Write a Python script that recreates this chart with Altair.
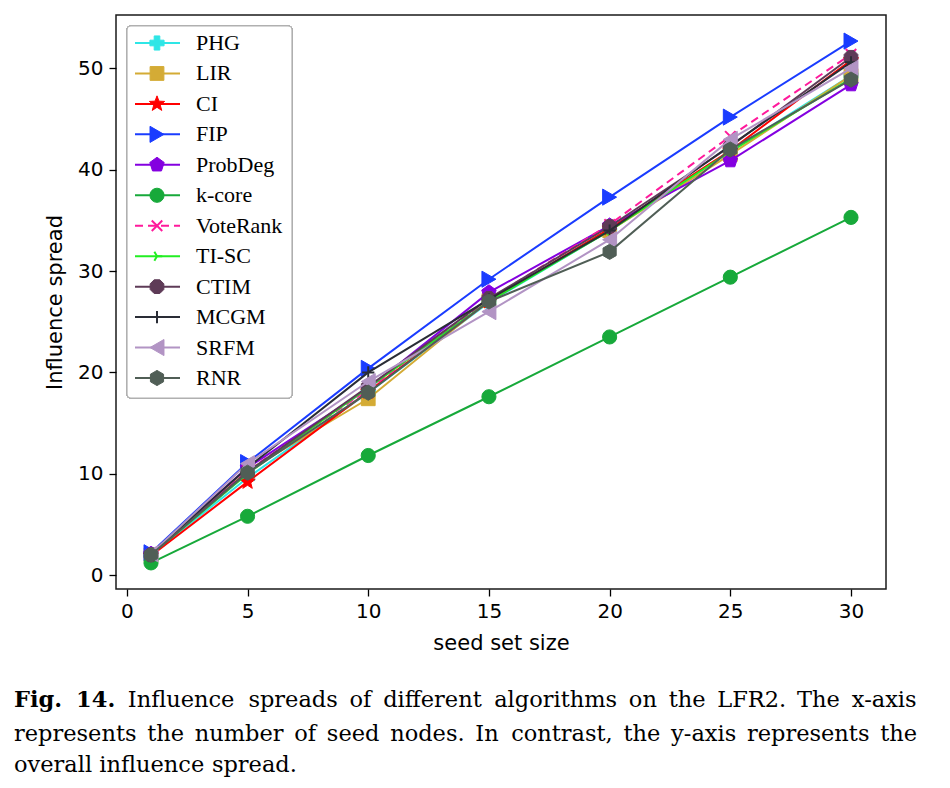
import math
import altair as alt
import pandas as pd

# ---------------- data ----------------
seed_sizes = [1, 5, 10, 15, 20, 25, 30]
names = ["PHG", "LIR", "CI", "FIP", "ProbDeg", "k-core", "VoteRank",
         "TI-SC", "CTIM", "MCGM", "SRFM", "RNR"]
phg = [2.0, 9.6, 18.0, 26.9, 34.0, 41.8, 49.3]
lir = [2.0, 10.3, 17.4, 27.1, 34.0, 41.5, 49.3]
ci = [1.9, 9.2, 18.1, 27.0, 34.2, 41.9, 50.8]
fip = [2.2, 11.1, 20.4, 29.2, 37.3, 45.2, 52.7]
probdeg = [2.1, 10.6, 18.4, 27.9, 34.5, 40.9, 48.4]
kcore = [1.2, 5.8, 11.8, 17.6, 23.5, 29.4, 35.3]
voterank = [2.0, 10.3, 18.3, 27.2, 34.6, 43.3, 51.4]
tisc = [2.0, 10.0, 18.5, 27.0, 34.0, 41.8, 49.0]
ctim = [2.0, 10.2, 18.6, 27.3, 34.4, 42.3, 51.1]
mcgm = [2.1, 10.6, 20.0, 27.2, 34.0, 42.4, 50.6]
srfm = [2.1, 11.0, 19.1, 26.0, 33.1, 43.0, 50.0]
rnr = [2.0, 10.1, 18.0, 27.0, 31.9, 42.0, 48.9]
series_values = [phg, lir, ci, fip, probdeg, kcore, voterank, tisc, ctim, mcgm, srfm, rnr]

x_ticks = [0, 5, 10, 15, 20, 25, 30]
y_ticks = [0, 10, 20, 30, 40, 50]

caption_lines = [
    "Fig. 14. Influence spreads of different algorithms on the LFR2. The x-axis",
    "represents the number of seed nodes. In contrast, the y-axis represents the",
    "overall influence spread.",
]
caption_bold_words = 2          # "Fig. 14." in bold on the first line
caption_justified = [True, True, False]
caption_baselines = [707, 741, 772]
caption_left, caption_right = 14, 917
cap_fs = 22.5

# ---------------- styles ----------------
colors = ["#2ee6e6", "#d4ab35", "#ff0000", "#1a3cff", "#8400e0", "#17a93a",
          "#ff1a9c", "#22ee22", "#5e3b57", "#2a2d36", "#b294c4", "#505e56"]


def poly(n, rot=-90.0, radii=(1.0,)):
    pts = []
    for k in range(n):
        a = math.radians(rot + 360.0 * k / n)
        r = radii[k % len(radii)]
        pts.append(f"{r * math.cos(a):.3f},{r * math.sin(a):.3f}")
    return "M" + "L".join(pts) + "Z"


star = poly(10, -90.0, (1.0, 0.42))
pentagon = poly(5, -90.0)
hexagon = poly(6, -90.0)
octagon = poly(8, -90.0 + 22.5)
xmark = "M-1,-1L1,1M-1,1L1,-1"
tri_right = "M0,0L1,0M0,0L-0.5,0.866M0,0L-0.5,-0.866"
plus = "M-1,0L1,0M0,-1L0,1"

shapes = ["cross", "square", star, "triangle-right", pentagon, "circle",
          xmark, tri_right, octagon, plus, "triangle-left", hexagon]
filled = [True, True, True, True, True, True, False, False, True, False, True, True]
sizes = [200, 190, 260, 260, 230, 200, 110, 110, 220, 150, 260, 230]
dashes = [None] * 12
dashes[6] = [8, 5]

# approximate DejaVu Serif advance widths (per 1000 em) for text justification
ADV = {"a": 596, "b": 640, "c": 560, "d": 640, "e": 592, "f": 370, "g": 640, "h": 644,
       "i": 320, "j": 320, "k": 606, "l": 320, "m": 948, "n": 644, "o": 602, "p": 640,
       "q": 640, "r": 478, "s": 513, "t": 402, "u": 644, "v": 565, "w": 856, "x": 564,
       "y": 565, "z": 523, ".": 318, ",": 318, "-": 338, "I": 473, "F": 673, "L": 653,
       "R": 735, "T": 682}
ADV_BOLD = {"F": 757, "i": 390, "g": 710, ".": 380, "1": 696, "4": 696}


def word_width(w, bold):
    tab = ADV_BOLD if bold else ADV
    return sum(tab.get(ch, 636) for ch in w) * cap_fs / 1000.0


# ---------------- frames ----------------
rows = []
for name, vals in zip(names, series_values):
    for xv, yv in zip(seed_sizes, vals):
        rows.append({"series": name, "seeds": xv, "spread": yv})
df = pd.DataFrame(rows)

legend_df = pd.DataFrame({"series": names, "row": list(range(len(names)))})

cap_rows = []
for li, (line, base, just) in enumerate(zip(caption_lines, caption_baselines, caption_justified)):
    words = line.split(" ")
    bolds = [li == 0 and k < caption_bold_words for k in range(len(words))]
    widths = [word_width(w, b) for w, b in zip(words, bolds)]
    if just:
        gap = (caption_right - caption_left - sum(widths)) / (len(words) - 1)
    else:
        gap = 318 * cap_fs / 1000.0
    xp = caption_left
    for w, b, wd in zip(words, bolds, widths):
        cap_rows.append({"word": w, "px": xp - 116, "py": base - 15,
                         "weight": "bold" if b else "normal"})
        xp += wd + gap
cap_df = pd.DataFrame(cap_rows)

W, H = 770, 574
xscale = alt.Scale(domain=[-0.45, 31.45], nice=False, zero=False)
yscale = alt.Scale(domain=[-1.375, 55.275], nice=False, zero=False)
axis_common = dict(grid=False, domain=False, tickColor="black", tickWidth=1.3,
                   tickSize=7, labelFont="DejaVu Sans", labelFontSize=20,
                   labelColor="black", titleFont="DejaVu Sans", titleFontSize=21,
                   titleFontWeight="normal", titleColor="black")
x_axis = alt.Axis(values=x_ticks, title="seed set size", labelPadding=5,
                  titlePadding=11, **axis_common)
y_axis = alt.Axis(values=y_ticks, title="Influence spread", labelPadding=6,
                  titlePadding=12, **axis_common)

data_layers = []
for i, name in enumerate(names):
    base = alt.Chart(df).transform_filter(alt.datum.series == name)
    enc = dict(x=alt.X("seeds:Q", scale=xscale, axis=x_axis),
               y=alt.Y("spread:Q", scale=yscale, axis=y_axis))
    lkw = dict(color=colors[i], strokeWidth=2)
    if dashes[i]:
        lkw["strokeDash"] = dashes[i]
    data_layers.append(base.mark_line(**lkw).encode(**enc))
    if filled[i]:
        pkw = dict(filled=True, fill=colors[i], stroke=colors[i], strokeWidth=1)
    else:
        pkw = dict(filled=False, stroke=colors[i], strokeWidth=2)
    data_layers.append(base.mark_point(shape=shapes[i], size=sizes[i], opacity=1,
                                       **pkw).encode(**enc))
data_group = alt.layer(*data_layers)

# legend
leg_scale = alt.Scale(domain=[0, len(names) - 1], range=[28, 363])
leg_y = alt.Y("row:Q", scale=leg_scale, axis=None)
legend_layers = [
    alt.Chart(legend_df).mark_rect(fill="white", stroke="#b0b0b0", strokeWidth=1.2,
                                   cornerRadius=4).encode(
        x=alt.value(11), x2=alt.value(176), y=alt.value(11), y2=alt.value(383))
]
for i, name in enumerate(names):
    b = alt.Chart(legend_df).transform_filter(alt.datum.series == name)
    rkw = dict(color=colors[i], strokeWidth=2)
    if dashes[i]:
        rkw["strokeDash"] = dashes[i]
    legend_layers.append(b.mark_rule(**rkw).encode(x=alt.value(19), x2=alt.value(64), y=leg_y))
    if filled[i]:
        pkw = dict(filled=True, fill=colors[i], stroke=colors[i], strokeWidth=1)
    else:
        pkw = dict(filled=False, stroke=colors[i], strokeWidth=2)
    legend_layers.append(b.mark_point(shape=shapes[i], size=sizes[i], opacity=1,
                                      **pkw).encode(x=alt.value(41), y=leg_y))
legend_layers.append(
    alt.Chart(legend_df).mark_text(align="left", baseline="middle", font="Liberation Serif",
                                   fontSize=22, color="black").encode(
        x=alt.value(80), y=leg_y, text="series:N"))
legend_group = alt.layer(*legend_layers)

cap_layers = []
for wt in ["bold", "normal"]:
    cap_layers.append(
        alt.Chart(cap_df).transform_filter(alt.datum.weight == wt).mark_text(
            align="left", baseline="alphabetic", font="DejaVu Serif", fontSize=cap_fs,
            fontWeight=wt, color="black").encode(
            x=alt.X("px:Q", scale=None), y=alt.Y("py:Q", scale=None), text="word:N"))
caption = alt.layer(*cap_layers)

chart = alt.layer(data_group, legend_group, caption).resolve_scale(
    x="independent", y="independent"
).properties(
    width=W, height=H,
    background="white",
    autosize=alt.AutoSizeParams(type="none"),
    padding={"left": 108, "top": 7, "right": 56, "bottom": 191},
).configure_view(stroke="#1a1a1a", strokeWidth=1.5)

chart.save("out.html", embed_options={"renderer": "svg", "actions": False})
